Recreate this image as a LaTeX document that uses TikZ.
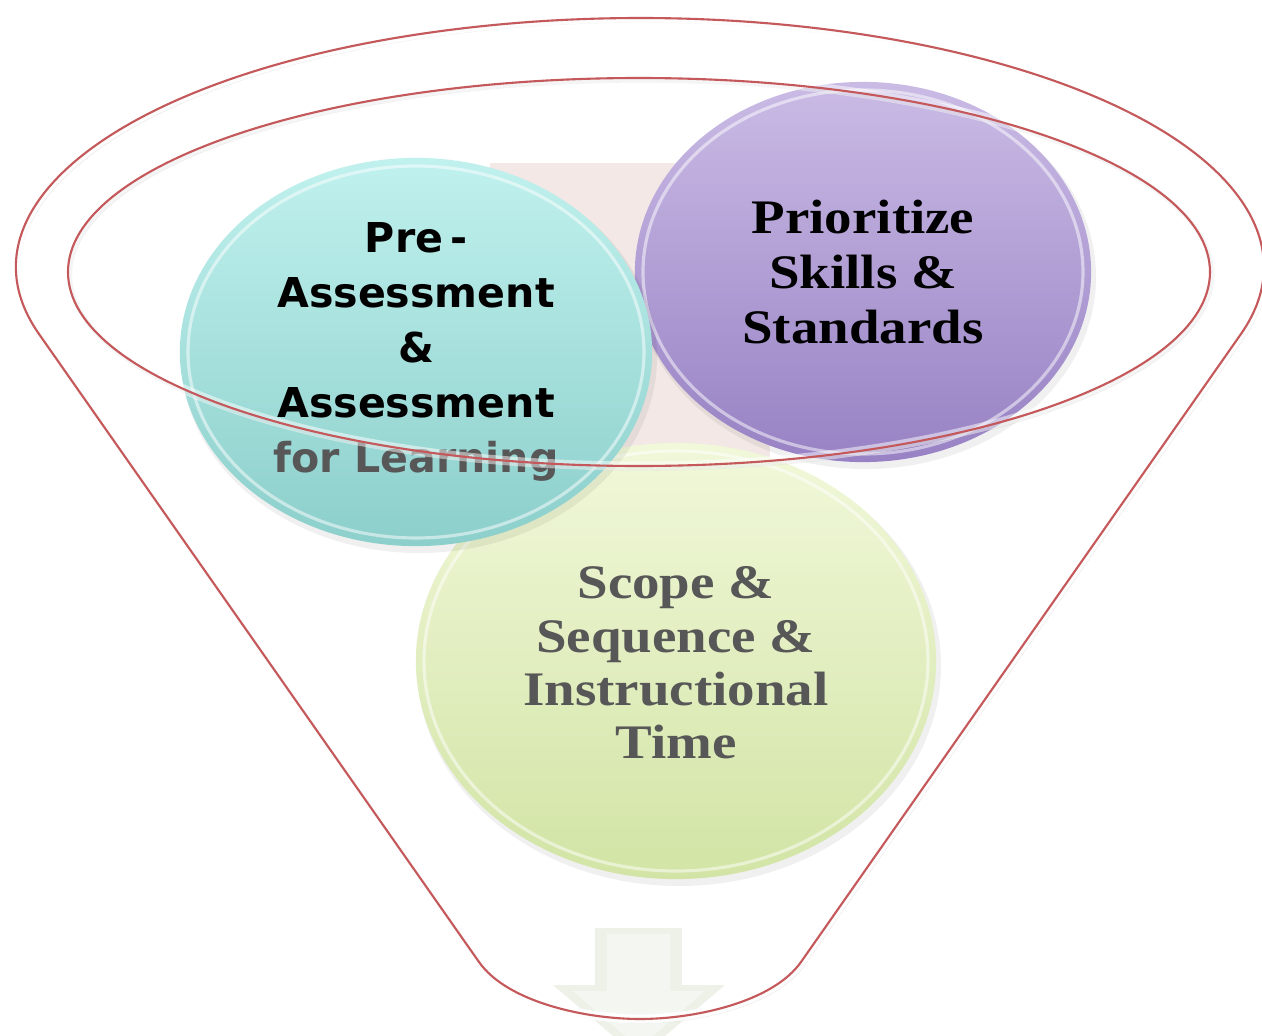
\documentclass[tikz,border=0pt]{standalone}
\usepackage{fontspec}
\setmainfont{Liberation Serif}
\newfontfamily\roundsans{DejaVu Sans}
\newfontfamily\bookserif[FakeStretch=1.14]{Liberation Serif}
\usetikzlibrary{shapes.geometric}

\definecolor{funnelred}{HTML}{C4585A}
\definecolor{backpink}{HTML}{F3E8E6}
\definecolor{tealtop}{HTML}{C0F1EE}
\definecolor{tealbot}{HTML}{8CCFCB}
\definecolor{lilactop}{HTML}{CABBE5}
\definecolor{lilacbot}{HTML}{9882C4}
\definecolor{limetop}{HTML}{F1F8DA}
\definecolor{limebot}{HTML}{D2E4A5}
\definecolor{softgray}{HTML}{575757}
\definecolor{arrowout}{HTML}{EDF1E8}
\definecolor{arrowin}{HTML}{F4F7F1}

\begin{document}
\begin{tikzpicture}[x=0.01cm,y=-0.01cm,
  orb/.style={ellipse, inner sep=0pt, outer sep=0pt},
  orbshadow/.style={fill=black, opacity=0.06},
  orbrim/.style={draw=white, opacity=0.5, line width=0.9pt},
  orbtext/.style={align=center, inner sep=0pt},
  funnelline/.style={draw=funnelred, line width=0.6pt},
  funnelglow/.style={draw=white, line width=2.6pt, opacity=0.9},
  funnelshade/.style={draw=black, line width=1.2pt, opacity=0.08}]

\useasboundingbox (0,0) rectangle (1262,1036);
\fill[white] (0,0) rectangle (1262,1036);

% pale backdrop between the three orbs
\fill[backpink] (490,163) rectangle (770,520);

% faint arrow at the funnel mouth
\fill[arrowout] (595,928) -- (682,928) -- (682,985) -- (725,985) -- (639,1058)
  -- (553,985) -- (595,985) -- cycle;
\fill[arrowin] (607,934) -- (670,934) -- (670,991) -- (705,991) -- (639,1048)
  -- (573,991) -- (607,991) -- cycle;

% green orb
\fill[orbshadow] (679,666) ellipse[x radius=262, y radius=220];
\node[orb, top color=limetop, bottom color=limebot,
  minimum width=5.20cm, minimum height=4.36cm] (limeorb) at (676,661) {};
\draw[orbrim] (676,661) ellipse[x radius=252, y radius=210];

% purple orb
\fill[orbshadow] (866,277) ellipse[x radius=230, y radius=192];
\node[orb, top color=lilactop, bottom color=lilacbot,
  minimum width=4.56cm, minimum height=3.80cm] (lilacorb) at (863,272) {};
\draw[orbrim] (863,272) ellipse[x radius=220, y radius=182];

% teal orb
\fill[orbshadow] (419,357) ellipse[x radius=238, y radius=196];
\node[orb, top color=tealtop, bottom color=tealbot,
  minimum width=4.72cm, minimum height=3.88cm] (tealorb) at (416,352) {};
\draw[orbrim] (416,352) ellipse[x radius=228, y radius=186];

% labels
\node[orbtext, font=\roundsans\bfseries\fontsize{11.7}{15.7}\selectfont]
  (tealtext) at (tealorb.center)
  {Pre\,-\\Assessment\\\&\\Assessment\\\textcolor{softgray}{for Learning}};
\node[orbtext, font=\bookserif\bfseries\fontsize{13.7}{15.6}\selectfont]
  (lilactext) at (lilacorb.center) {Prioritize\\Skills \&\\Standards};
\node[orbtext, text=softgray, font=\bookserif\bfseries\fontsize{13.7}{15.2}\selectfont]
  (limetext) at ([yshift=-0.02cm]limeorb.center) {Scope \&\\Sequence \&\\Instructional\\Time};

% funnel outline
\def\funnelpath{(39,334) arc[start angle=164.4, end angle=375.6, x radius=624, y radius=249]
  -- (801,962) .. controls (773,1002) and (695,1019) .. (640,1019)
  .. controls (585,1019) and (507,1002) .. (479,962) -- cycle}
\begin{scope}[xshift=0.02cm, yshift=-0.025cm]
  \path[funnelshade] \funnelpath;
  \path[funnelshade] (639,272) ellipse[x radius=571, y radius=194];
\end{scope}
\path[funnelglow] \funnelpath;
\path[funnelglow, opacity=0.5] (639,272) ellipse[x radius=571, y radius=194];
\path[funnelline] \funnelpath;
\path[funnelline] (639,272) ellipse[x radius=571, y radius=194];

\end{tikzpicture}
\end{document}
